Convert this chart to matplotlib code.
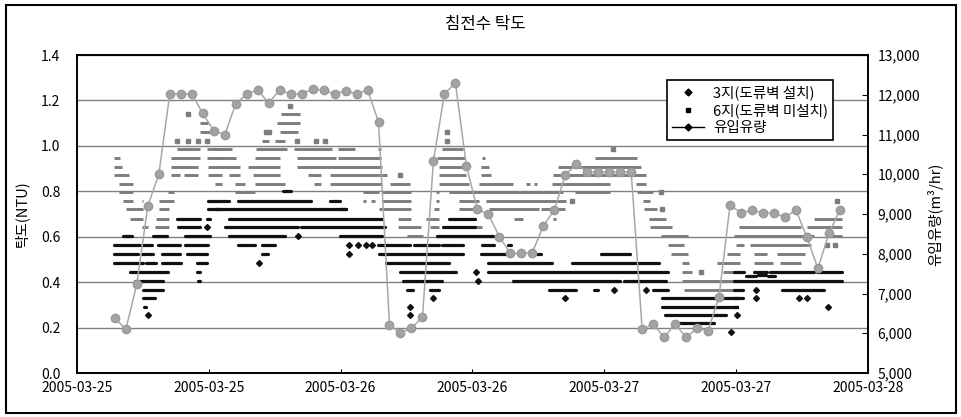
import numpy as np
import pandas as pd
import matplotlib
matplotlib.use('Agg')
import matplotlib.pyplot as plt
import matplotlib.dates as mdates
from matplotlib.lines import Line2D
from matplotlib.patches import Rectangle
from matplotlib.ticker import FuncFormatter

plt.rcParams['font.family'] = ['Noto Sans CJK KR', 'DejaVu Sans']

title = '침전수 탁도'
left_label = '탁도(NTU)'
right_label = '유입유량(m³/hr)'
legend_labels = ['3지(도류벽 설치)', '6지(도류벽 미설치)', '유입유량']

start = pd.Timestamp('2005-03-25 00:00')
end = pd.Timestamp('2005-03-28 00:00')

# hourly inflow (m3/hr), first reading at 03:27
flow_start = pd.Timestamp('2005-03-25 03:27')
flow = [6380, 6100, 7240, 9200, 10000, 12020, 12020, 12020, 11530, 11100,
        10990, 11770, 12020, 12120, 11790, 12120, 12020, 12020, 12140, 12120,
        12020, 12100, 12020, 12120, 11320, 6210, 6000, 6130, 6400, 10340,
        12020, 12300, 10210, 9120, 8990, 8430, 8010, 8010, 8030, 8700,
        9100, 9980, 10250, 10060, 10050, 10050, 10060, 10060, 6100, 6230,
        5900, 6230, 5900, 6130, 6060, 6920, 9230, 9020, 9100, 9020,
        9020, 8920, 9100, 8410, 7630, 8510, 9100]

# turbidity readings, grouped as runs: (from hour, to hour, NTU)
site3_runs = [
    (4.2, 5.0, 0.605), (6.9, 8.2, 0.605), (9.8, 12.1, 0.605),
    (3.4, 5.7, 0.565), (6.0, 6.8, 0.565), (7.4, 9.4, 0.565), (9.8, 11.9, 0.565),
    (3.4, 5.6, 0.524), (5.9, 6.9, 0.524), (7.7, 9.4, 0.524), (10.0, 11.8, 0.524),
    (3.4, 6.0, 0.485), (6.3, 7.2, 0.485), (7.7, 9.5, 0.485), (10.9, 11.8, 0.485),
    (4.8, 8.3, 0.443), (10.9, 11.2, 0.443),
    (5.3, 7.8, 0.403), (11.0, 11.2, 0.403),
    (6.0, 7.8, 0.367), (6.0, 7.1, 0.33), (6.1, 6.3, 0.29), (6.5, 6.5, 0.255),
    (9.1, 11.2, 0.68), (11.8, 12.1, 0.68), (9.2, 11.2, 0.643), (11.8, 11.8, 0.643),
    (11.9, 13.8, 0.757), (11.9, 13.0, 0.72),
    (14.7, 21.3, 0.757), (23.0, 23.9, 0.757), (18.8, 19.5, 0.80),
    (12.6, 24.5, 0.72),
    (13.8, 27.8, 0.68),
    (13.5, 20.1, 0.643), (20.4, 28.0, 0.643),
    (13.8, 18.9, 0.605), (20.1, 20.1, 0.605),
    (14.7, 16.2, 0.565), (16.8, 18.0, 0.565),
    (16.8, 17.4, 0.524), (16.6, 16.6, 0.485),
    (23.9, 27.8, 0.605), (32.8, 37.9, 0.605), (38.3, 38.3, 0.605),
    (24.8, 24.8, 0.565), (25.6, 25.6, 0.565), (26.3, 26.3, 0.565), (26.9, 26.9, 0.565),
    (27.4, 30.3, 0.565), (30.7, 33.0, 0.565), (33.2, 35.1, 0.565), (36.9, 38.0, 0.565),
    (39.2, 39.5, 0.565),
    (24.8, 24.8, 0.524), (27.5, 35.1, 0.524), (36.8, 39.1, 0.524), (41.9, 42.2, 0.524),
    (47.7, 50.3, 0.524),
    (28.1, 33.9, 0.485), (37.4, 43.2, 0.485), (45.1, 53.0, 0.485),
    (29.4, 34.5, 0.443), (36.3, 36.3, 0.443), (37.4, 53.8, 0.443),
    (29.7, 33.2, 0.403), (36.5, 36.5, 0.403), (39.7, 49.4, 0.403), (49.8, 53.6, 0.403),
    (30.0, 30.6, 0.367), (32.1, 33.0, 0.367), (43.0, 45.4, 0.367), (47.1, 47.4, 0.367),
    (48.9, 48.9, 0.367), (51.8, 51.8, 0.367), (52.4, 53.8, 0.367),
    (32.4, 32.4, 0.33), (44.4, 44.4, 0.33),
    (30.3, 30.3, 0.29), (30.3, 30.3, 0.255),
    (33.9, 36.2, 0.68), (33.3, 36.2, 0.643), (23.9, 24.5, 0.72),
    (53.3, 60.1, 0.33), (53.3, 60.1, 0.29), (53.5, 59.1, 0.255), (54.8, 58.0, 0.22),
    (59.5, 59.5, 0.18),
    (59.8, 60.7, 0.443), (61.6, 62.8, 0.443), (63.1, 67.1, 0.443), (67.4, 69.6, 0.443),
    (59.8, 69.6, 0.405), (60.9, 61.8, 0.425), (62.0, 62.7, 0.43), (62.9, 63.5, 0.425),
    (59.8, 60.6, 0.367), (61.8, 61.8, 0.367), (64.2, 68.0, 0.367),
    (59.8, 60.6, 0.33), (61.8, 61.8, 0.33), (65.7, 65.7, 0.33), (66.5, 66.5, 0.33),
    (59.8, 60.1, 0.29), (68.4, 68.4, 0.29), (60.1, 60.1, 0.255),
]

site6_runs = [
    (3.4, 3.9, 0.945), (3.4, 4.1, 0.909), (3.4, 4.7, 0.87), (3.8, 5.1, 0.832),
    (3.8, 5.1, 0.796), (4.2, 5.1, 0.757), (5.9, 6.0, 0.757), (4.5, 6.0, 0.72),
    (4.8, 6.0, 0.68), (5.9, 6.5, 0.643),
    (7.5, 8.8, 0.757), (7.5, 8.4, 0.72), (7.2, 8.4, 0.68), (7.1, 8.4, 0.643), (8.3, 8.8, 0.796),
    (8.6, 9.4, 0.87), (9.7, 11.0, 0.87), (8.6, 11.0, 0.909), (8.6, 11.2, 0.945),
    (9.1, 11.2, 0.985),
    (9.1, 9.1, 1.02), (10.1, 10.1, 1.02), (11.0, 11.0, 1.02), (11.8, 11.8, 1.02),
    (11.2, 12.1, 1.06), (11.2, 11.9, 1.10), (10.1, 10.1, 1.14),
    (11.8, 13.0, 0.985), (11.8, 13.0, 0.945), (11.9, 13.0, 0.87), (11.9, 12.6, 0.909),
    (12.6, 14.1, 0.985), (16.3, 19.1, 0.985), (19.8, 23.2, 0.985), (23.8, 25.3, 0.985),
    (12.6, 14.5, 0.945), (16.2, 18.5, 0.945), (20.0, 23.6, 0.945), (23.8, 27.7, 0.945),
    (12.6, 14.8, 0.909), (15.6, 18.5, 0.909), (20.0, 27.8, 0.909),
    (12.6, 13.2, 0.87), (13.8, 14.8, 0.87), (16.0, 18.5, 0.87), (21.0, 22.2, 0.87),
    (23.0, 28.2, 0.87),
    (12.6, 13.2, 0.832), (14.4, 15.3, 0.832), (16.2, 18.9, 0.832), (21.6, 22.2, 0.832),
    (23.0, 27.8, 0.832),
    (14.4, 16.2, 0.796),
    (16.8, 17.5, 1.02), (18.0, 18.9, 1.02), (20.0, 20.0, 1.02), (21.8, 21.8, 1.02),
    (22.6, 22.6, 1.02),
    (17.2, 17.2, 1.06), (17.5, 17.5, 1.06), (18.5, 20.1, 1.06),
    (18.2, 20.3, 1.10), (18.6, 20.3, 1.14), (19.4, 19.4, 1.175),
    (27.4, 27.7, 0.985), (33.2, 35.1, 0.985), (33.7, 33.7, 1.02), (33.7, 33.7, 1.06),
    (32.8, 35.3, 0.945), (33.0, 35.4, 0.909), (29.4, 29.4, 0.87), (33.0, 35.4, 0.87),
    (28.5, 30.3, 0.832), (33.0, 35.7, 0.832),
    (26.0, 27.5, 0.796), (27.8, 30.4, 0.796), (32.7, 33.0, 0.796), (33.9, 36.2, 0.796),
    (26.0, 26.3, 0.757), (26.8, 27.1, 0.757), (27.8, 30.4, 0.757), (32.7, 33.0, 0.757),
    (34.8, 36.6, 0.757),
    (27.5, 30.4, 0.72), (32.5, 33.0, 0.72), (34.8, 36.3, 0.72),
    (29.2, 30.4, 0.68), (31.8, 33.0, 0.68), (35.7, 36.3, 0.68),
    (29.2, 31.3, 0.643), (32.1, 33.0, 0.643), (35.7, 36.9, 0.643),
    (30.0, 31.5, 0.605),
    (36.9, 37.1, 0.945), (47.2, 51.0, 0.945),
    (36.8, 37.5, 0.909), (43.8, 51.3, 0.909),
    (36.8, 37.7, 0.87), (43.3, 51.8, 0.87),
    (36.6, 39.7, 0.832), (40.9, 41.2, 0.832), (41.6, 41.9, 0.832), (43.2, 48.5, 0.832),
    (50.9, 51.8, 0.832),
    (35.7, 44.2, 0.796), (45.3, 48.5, 0.796), (51.0, 52.4, 0.796), (53.2, 53.2, 0.796),
    (37.2, 44.5, 0.757), (45.1, 45.1, 0.757), (51.5, 52.2, 0.757),
    (37.5, 42.1, 0.72), (42.2, 44.4, 0.72), (51.6, 52.8, 0.72), (53.3, 53.3, 0.72),
    (39.8, 40.6, 0.68), (43.3, 43.6, 0.68), (52.1, 53.6, 0.68),
    (52.2, 54.2, 0.643), (48.8, 48.8, 0.985),
    (53.2, 55.6, 0.605),
    (53.8, 55.3, 0.565), (60.0, 60.7, 0.565),
    (54.1, 55.6, 0.524), (59.2, 60.4, 0.524),
    (55.1, 55.7, 0.485), (58.3, 60.4, 0.485),
    (55.1, 56.0, 0.443), (56.8, 56.8, 0.443), (58.8, 60.7, 0.443),
    (55.1, 59.8, 0.403), (55.3, 60.3, 0.367),
    (69.2, 69.2, 0.757), (67.1, 69.6, 0.68),
    (60.3, 65.9, 0.643), (66.5, 69.6, 0.643),
    (59.8, 67.1, 0.605), (68.6, 69.6, 0.605),
    (61.3, 66.8, 0.565), (68.3, 68.3, 0.565), (69.0, 69.0, 0.565),
    (61.6, 62.8, 0.524), (63.7, 66.3, 0.524),
    (61.6, 63.4, 0.485), (64.0, 65.9, 0.485),
]

t0 = mdates.date2num(start)


def split_runs(runs):
    # long runs become line pieces, single readings become dots
    lx, ly, dx, dy = [], [], [], []
    for h0, h1, v in runs:
        if h1 > h0:
            lx += [t0 + h0 / 24, t0 + h1 / 24, np.nan]
            ly += [v, v, np.nan]
        else:
            dx.append(t0 + h0 / 24)
            dy.append(v)
    return lx, ly, dx, dy


fig = plt.figure(figsize=(9.62, 4.17), dpi=100)
ax = fig.add_axes([0.080, 0.1055, 0.8222, 0.7626])
ax2 = ax.twinx()

gray6 = '#7d7d7d'
black3 = '#111111'
lx, ly, dx, dy = split_runs(site6_runs)
ax.plot(lx, ly, color=gray6, lw=2.1, solid_capstyle='butt', zorder=2)
ax.plot(dx, dy, ls='none', marker='s', color=gray6, ms=2.8, zorder=2)
lx, ly, dx, dy = split_runs(site3_runs)
ax.plot(lx, ly, color=black3, lw=2.3, solid_capstyle='round', zorder=3)
ax.plot(dx, dy, ls='none', marker='D', color=black3, ms=3.0, zorder=3)

flow_t = pd.date_range(flow_start, periods=len(flow), freq='h')
ax2.plot(flow_t, flow, color='#a8a8a8', lw=1.1, marker='o', ms=6.0,
         mfc='#a3a3a3', mec='#999999', zorder=4)

ax.set_xlim(mdates.date2num(start), mdates.date2num(end))
ax.set_ylim(0, 1.4)
ax.set_yticks(np.arange(0, 1.41, 0.2))
ax.yaxis.set_major_formatter(FuncFormatter(lambda v, p: f'{v:.1f}'))
ax.yaxis.grid(True, color='#808080', lw=1.0)
ax.set_axisbelow(True)
ax.xaxis.set_major_locator(mdates.HourLocator(byhour=[0, 12]))
ax.xaxis.set_major_formatter(mdates.DateFormatter('%Y-%m-%d'))

ax2.set_ylim(5000, 13000)
ax2.set_yticks(np.arange(5000, 13001, 1000))
ax2.yaxis.set_major_formatter(FuncFormatter(lambda v, p: f'{v:,.0f}'))

ax.tick_params(axis='y', length=0, pad=12, labelsize=10)
ax.tick_params(axis='x', direction='in', length=3, pad=6, labelsize=10)
ax2.tick_params(axis='y', direction='in', length=4, pad=7, labelsize=10)
for a in (ax, ax2):
    for s in a.spines.values():
        s.set_color('black')
        s.set_linewidth(1.2)

ax.set_ylabel(left_label, fontsize=10.5, va='center', ha='center')
ax.yaxis.set_label_coords(-0.0705, 0.5)
ax2.set_ylabel(right_label, fontsize=10.5, va='center', ha='center')
ax2.yaxis.set_label_coords(1.0847, 0.5)

fig.text(0.505, 1 - 25 / 417, title, ha='center', va='center', fontsize=12)

handles = [
    Line2D([], [], ls='none', marker='D', color='black', ms=3.5),
    Line2D([], [], ls='none', marker='s', color='black', ms=3.5),
    Line2D([], [], color='black', lw=1.0, marker='D', ms=3.5),
]
leg = ax2.legend(handles, legend_labels, loc='upper right', bbox_to_anchor=(0.956, 0.921),
                 borderaxespad=0, fontsize=10.5, frameon=True, fancybox=False,
                 framealpha=1, edgecolor='black', handlelength=2.2,
                 borderpad=0.35, labelspacing=0.2, handletextpad=0.6)
leg.get_frame().set_linewidth(1.2)
leg.set_zorder(10)

fig.patches.append(Rectangle((0.0062, 0.0096), 0.9876, 0.9784, transform=fig.transFigure,
                             fill=False, edgecolor='black', lw=1.5))

fig.savefig('out.png', dpi=100)
